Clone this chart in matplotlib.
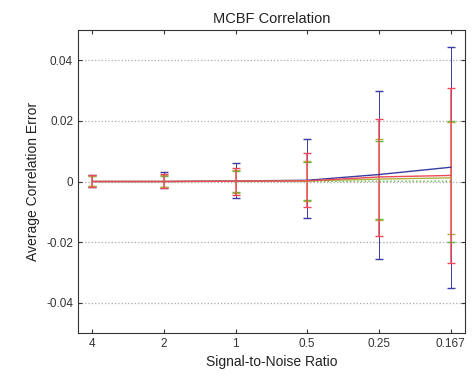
import matplotlib
matplotlib.use("Agg")
import matplotlib.pyplot as plt
import numpy as np

plt.rcParams['font.family'] = ['Liberation Sans', 'DejaVu Sans']

snr_labels = ["4", "2", "1", "0.5", "0.25", "0.167"]
x = np.arange(1, len(snr_labels) + 1)

# mean values
blue_mean = [0.0, 0.0, 0.0002, 0.0004, 0.0023, 0.0047]
red_mean = [0.0, 0.0, 0.0001, 0.0002, 0.0015, 0.0020]
olive_mean = [0.0, 0.0, 0.0001, 0.0002, 0.0008, 0.0012]
green_mean = [0.0, 0.0, 0.0, 0.0, 0.0001, 0.0001]

# error bar extents (upper, lower absolute values)
blue_up = [0.0023, 0.0030, 0.0060, 0.0140, 0.0300, 0.0444]
blue_lo = [-0.0019, -0.0023, -0.0055, -0.0120, -0.0256, -0.0350]
red_up = [0.0020, 0.0025, 0.0045, 0.0093, 0.0207, 0.0307]
red_lo = [-0.0017, -0.0020, -0.0045, -0.0085, -0.0180, -0.0270]
olive_up = [0.0018, 0.0020, 0.0038, 0.0069, 0.0140, 0.0195]
olive_lo = [-0.0016, -0.0019, -0.0037, -0.0065, -0.0128, -0.0174]
green_up = [0.0017, 0.0018, 0.0036, 0.0066, 0.0135, 0.0200]
green_lo = [-0.0015, -0.0018, -0.0035, -0.0062, -0.0125, -0.0200]

fig = plt.figure(figsize=(4.72, 3.83), dpi=100)
ax = fig.add_axes([0.165, 0.1305, 0.82, 0.7912])

series = [
    (blue_mean, blue_up, blue_lo, '#3a3aa0', '-', 0.7),
    (green_mean, green_up, green_lo, '#55bb44', ':', 0.7),
    (olive_mean, olive_up, olive_lo, '#b0b040', '-', 0.7),
    (red_mean, red_up, red_lo, '#ec4a5a', '-', 1.1),
]
for mean, up, lo, col, ls, ew in series:
    m = np.array(mean)
    yerr = np.vstack([m - np.array(lo), np.array(up) - m])
    ax.errorbar(x, m, yerr=yerr, color=col, linestyle=ls, linewidth=1.0,
                elinewidth=ew, capsize=3, capthick=1.0)

ax.set_xlim(0.8, 6.2)
ax.set_ylim(-0.05, 0.05)
ax.set_xticks(x)
ax.set_xticklabels(snr_labels)
ax.set_yticks([-0.04, -0.02, 0, 0.02, 0.04])
ax.set_yticklabels(["-0.04", "-0.02", "0", "0.02", "0.04"])
ax.yaxis.grid(True, linestyle=':', color='#aaaaaa', linewidth=0.9)
ax.set_axisbelow(True)
ax.tick_params(direction='in', top=True, right=True, labelsize=8.5, length=3,
               colors='#333333')
for s in ax.spines.values():
    s.set_color('#333333')
ax.set_title("MCBF Correlation", fontsize=10.5, pad=5, color='#222222')
ax.set_xlabel("Signal-to-Noise Ratio", fontsize=10, color='#222222')
ax.set_ylabel("Average Correlation Error", fontsize=10, color='#222222')

fig.savefig("out.png", dpi=100)
